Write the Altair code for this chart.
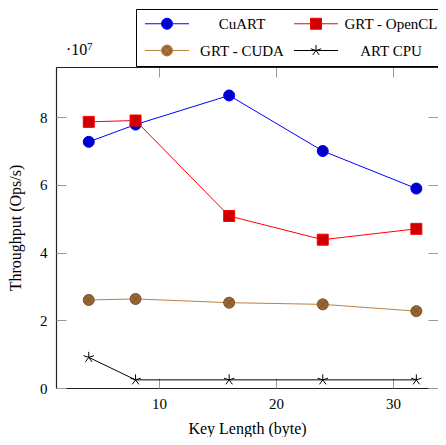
import altair as alt
import pandas as pd

# ---------------- data ----------------
key_lengths = [4, 8, 16, 24, 32]
series_names = ["CuART", "GRT - OpenCL", "GRT - CUDA", "ART CPU"]
cuart = [7.27e7, 7.78e7, 8.64e7, 7.00e7, 5.89e7]
grt_opencl = [7.86e7, 7.90e7, 5.08e7, 4.38e7, 4.70e7]
grt_cuda = [2.60e7, 2.63e7, 2.52e7, 2.47e7, 2.27e7]
art_cpu = [0.905e7, 0.24e7, 0.24e7, 0.24e7, 0.24e7]
x_ticks = [10, 20, 30]
y_ticks = [0, 2e7, 4e7, 6e7, 8e7]
# legend is filled column by column: this order gives rows
# (CuART, GRT - OpenCL) and (GRT - CUDA, ART CPU)
legend_order = [0, 2, 1, 3]

# ---------------- styles ----------------
line_colors = ["#0000ff", "#ff0000", "#bf8040", "#000000"]
mark_fills = ["#0000cc", "#cc0000", "#996633", "transparent"]
mark_strokes = ["#0000ff", "#ff0000", "#7a5230", "#000000"]

CIRCLE = "M -1 0 A 1 1 0 1 0 1 0 A 1 1 0 1 0 -1 0 Z"
SQUARE = "M -1 -1 L 1 -1 L 1 1 L -1 1 Z"
OTIMES = CIRCLE + " M -0.7 -0.7 L 0.7 0.7 M -0.7 0.7 L 0.7 -0.7"
STAR = ("M 0 0 L 0 -1 M 0 0 L 0.951 -0.309 M 0 0 L 0.588 0.809 "
        "M 0 0 L -0.588 0.809 M 0 0 L -0.951 -0.309")
marker_paths = [CIRCLE, SQUARE, OTIMES, STAR]

LG_CIRCLE = "M -1 0 L 2 0 M 4 0 L 7 0 M 2 0 A 1 1 0 1 0 4 0 A 1 1 0 1 0 2 0 Z"
LG_SQUARE = "M -1 0 L 2 0 M 4 0 L 7 0 M 2 -1 L 4 -1 L 4 1 L 2 1 Z"
LG_OTIMES = LG_CIRCLE + " M 2.3 -0.7 L 3.7 0.7 M 2.3 0.7 L 3.7 -0.7"
LG_STAR = ("M -1 0 L 7 0 M 3 0 L 3 -1 M 3 0 L 3.951 -0.309 M 3 0 L 3.588 0.809 "
           "M 3 0 L 2.412 0.809 M 3 0 L 2.049 -0.309")
legend_paths = [LG_CIRCLE, LG_SQUARE, LG_OTIMES, LG_STAR]

rows = []
for name, vals in zip(series_names, [cuart, grt_opencl, grt_cuda, art_cpu]):
    for k, v in zip(key_lengths, vals):
        rows.append({"key": k, "tp": v, "series": name})
df = pd.DataFrame(rows)

FONT = "Liberation Serif"
FS = 16
TFS = 15
W, H = 382, 321
TICK_COLOR = "#9a9a9a"
FRAME = "#222222"

x_scale = alt.Scale(domain=[1.2, 33.85], nice=False, zero=False)
y_scale = alt.Scale(domain=[0, 9.48e7], nice=False, zero=False)

base = alt.Chart(df)

# main axes (labels, titles, left/bottom frame) + lines
lines = base.mark_line(strokeWidth=1).encode(
    x=alt.X("key:Q", scale=x_scale, axis=alt.Axis(
        orient="bottom", values=x_ticks, ticks=False, grid=False,
        domain=True, domainColor=FRAME, domainWidth=1.2,
        labelPadding=8, labelFont=FONT, labelFontSize=TFS, labelColor="black",
        title="Key Length (byte)", titleFont=FONT, titleFontSize=FS,
        titleFontWeight="normal", titleColor="black", titlePadding=9)),
    y=alt.Y("tp:Q", scale=y_scale, axis=alt.Axis(
        orient="left", values=y_ticks, labelExpr="datum.value / 10000000",
        ticks=False, grid=False, domain=True, domainColor=FRAME, domainWidth=1.2,
        labelPadding=9, labelFont=FONT, labelFontSize=TFS, labelColor="black",
        title="Throughput (Ops/s)", titleFont=FONT, titleFontSize=FS,
        titleFontWeight="normal", titleColor="black", titlePadding=16)),
    color=alt.Color("series:N", scale=alt.Scale(domain=series_names, range=line_colors),
                    legend=None),
)

# top frame with inward ticks, and right inward ticks
frame = base.mark_point(opacity=0).encode(
    x=alt.X("key:Q", scale=x_scale, axis=alt.Axis(
        orient="bottom", offset=-H, values=x_ticks, labels=False,
        domain=True, domainColor=FRAME, domainWidth=1.2,
        grid=False, ticks=True, tickSize=10, tickColor=TICK_COLOR, tickWidth=1,
        title=None)),
    y=alt.Y("tp:Q", scale=y_scale, axis=alt.Axis(
        orient="left", offset=-W, values=y_ticks, labels=False, domain=False,
        grid=False, ticks=True, tickSize=10, tickColor=TICK_COLOR, tickWidth=1,
        title=None)),
)

# data markers + inward ticks at bottom (pointing up) and left (pointing right)
points = base.mark_point(filled=True, size=121, strokeWidth=1, opacity=1).encode(
    x=alt.X("key:Q", scale=x_scale, axis=alt.Axis(
        orient="top", offset=-H, values=x_ticks, labels=False, domain=False,
        grid=False, ticks=True, tickSize=10, tickColor=TICK_COLOR, tickWidth=1,
        title=None)),
    y=alt.Y("tp:Q", scale=y_scale, axis=alt.Axis(
        orient="right", offset=-W, values=y_ticks, labels=False, domain=False,
        grid=False, ticks=True, tickSize=10, tickColor=TICK_COLOR, tickWidth=1,
        title=None)),
    shape=alt.Shape("series:N", scale=alt.Scale(domain=series_names, range=marker_paths),
                    legend=None),
    fill=alt.Fill("series:N", scale=alt.Scale(domain=series_names, range=mark_fills),
                  legend=None),
    stroke=alt.Stroke("series:N", scale=alt.Scale(domain=series_names, range=mark_strokes),
                      legend=None),
)

legend = alt.Legend(
    orient="none", legendX=80, legendY=-58, columns=2, title=None,
    strokeColor="black", fillColor="white", padding=7,
    rowPadding=11, columnPadding=7,
    labelFont=FONT, labelFontSize=15, labelColor="black",
    labelAlign="center", labelOffset=84, labelLimit=300,
    symbolSize=121, symbolStrokeWidth=1,
)

lg_domain = [series_names[i] for i in legend_order]
lg_paths = [legend_paths[i] for i in legend_order]
lg_fills = [mark_fills[i] for i in legend_order]
lg_strokes = [line_colors[i] for i in legend_order]

# legend-only layer (no rows drawn): line sample + marker as one symbol
legend_layer = base.transform_filter("datum.key < 0").mark_point(
    filled=True, size=121, strokeWidth=1, opacity=1
).encode(
    x=alt.X("key:Q", scale=x_scale, axis=None),
    y=alt.Y("tp:Q", scale=y_scale, axis=None),
    shape=alt.Shape("series:N", scale=alt.Scale(domain=lg_domain, range=lg_paths),
                    legend=legend),
    fill=alt.Fill("series:N", scale=alt.Scale(domain=lg_domain, range=lg_fills),
                  legend=legend),
    stroke=alt.Stroke("series:N", scale=alt.Scale(domain=lg_domain, range=lg_strokes),
                      legend=legend),
)

# axis multiplier "·10^7" above the top-left corner
mult = alt.Chart(pd.DataFrame({"t": ["·10"]})).mark_text(
    font=FONT, fontSize=FS, align="left", baseline="alphabetic", color="black"
).encode(text="t:N", x=alt.value(10), y=alt.value(-12))
exponent = alt.Chart(pd.DataFrame({"t": ["7"]})).mark_text(
    font=FONT, fontSize=11, align="left", baseline="middle", color="black"
).encode(text="t:N", x=alt.value(31), y=alt.value(-20))

chart = alt.layer(lines, frame, points, legend_layer, mult, exponent).resolve_axis(
    x="independent", y="independent"
).resolve_scale(
    shape="independent", fill="independent", stroke="independent"
).properties(
    width=W, height=H,
    autosize=alt.AutoSizeParams(type="none"),
    padding={"left": 48, "top": 59, "right": 0, "bottom": 49},
).configure_view(stroke=None).configure(background="white")

chart.save("out.html", embed_options={"renderer": "svg", "actions": False})
